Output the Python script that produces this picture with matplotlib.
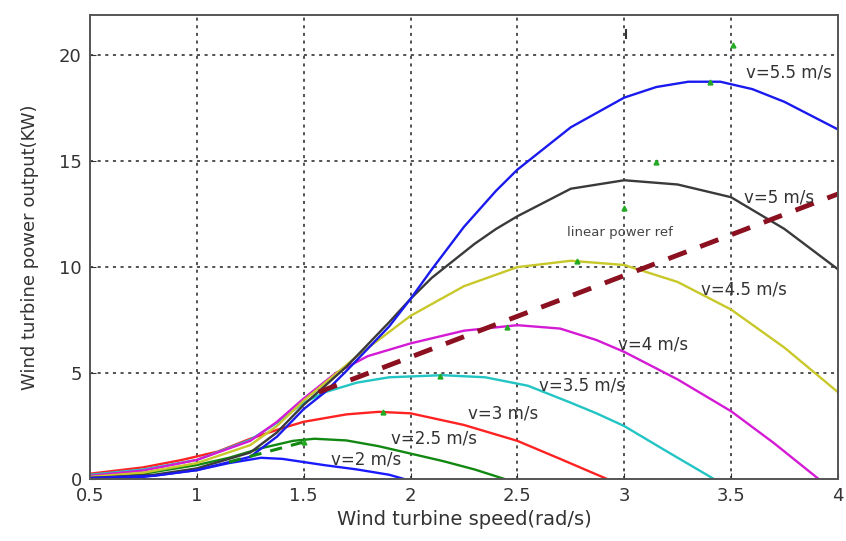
import numpy as np
import matplotlib
matplotlib.use("Agg")
import matplotlib.pyplot as plt

plt.rcParams['font.family'] = ['DejaVu Sans']

# power curves: (speed rad/s, power kW)
v2_x = [0.5, 0.75, 1.0, 1.15, 1.3, 1.4, 1.5, 1.6, 1.75, 1.9, 1.97]
v2_y = [0.03, 0.1, 0.42, 0.75, 1.0, 0.95, 0.8, 0.65, 0.45, 0.2, 0.0]

v25_x = [0.5, 0.75, 1.0, 1.15, 1.3, 1.45, 1.55, 1.7, 1.85, 2.0, 2.15, 2.3, 2.44]
v25_y = [0.08, 0.25, 0.66, 1.0, 1.45, 1.8, 1.9, 1.82, 1.55, 1.2, 0.85, 0.45, 0.0]

v3_x = [0.5, 0.75, 0.93, 1.1, 1.25, 1.4, 1.5, 1.7, 1.85, 2.0, 2.25, 2.5, 2.7, 2.92]
v3_y = [0.25, 0.55, 0.9, 1.3, 1.9, 2.4, 2.7, 3.05, 3.17, 3.1, 2.55, 1.8, 0.95, 0.0]

v35_x = [0.5, 0.75, 1.0, 1.25, 1.375, 1.5, 1.6, 1.75, 1.9, 2.15, 2.35, 2.55, 2.75, 2.87, 3.0, 3.2, 3.42]
v35_y = [0.2, 0.45, 0.9, 1.85, 2.65, 3.6, 4.1, 4.55, 4.8, 4.9, 4.8, 4.4, 3.6, 3.1, 2.5, 1.3, 0.0]

v4_x = [0.5, 0.75, 1.0, 1.25, 1.375, 1.5, 1.65, 1.8, 2.0, 2.25, 2.5, 2.7, 2.87, 3.0, 3.25, 3.5, 3.7, 3.91]
v4_y = [0.15, 0.4, 0.9, 1.8, 2.7, 3.8, 5.0, 5.8, 6.4, 7.0, 7.26, 7.1, 6.56, 6.0, 4.7, 3.2, 1.7, 0.0]

v45_x = [0.5, 0.75, 1.0, 1.25, 1.375, 1.5, 1.75, 2.0, 2.25, 2.5, 2.75, 3.0, 3.25, 3.5, 3.75, 4.0]
v45_y = [0.1, 0.3, 0.75, 1.6, 2.5, 3.7, 5.8, 7.7, 9.1, 10.0, 10.3, 10.1, 9.3, 8.0, 6.2, 4.1]

v5_x = [0.5, 0.8, 1.0, 1.25, 1.375, 1.5, 1.7, 1.9, 2.0, 2.1, 2.2, 2.3, 2.4, 2.5, 2.75, 3.0,
        3.25, 3.5, 3.75, 4.0]
v5_y = [0.05, 0.2, 0.5, 1.25, 2.2, 3.5, 5.3, 7.4, 8.5, 9.5, 10.3, 11.1, 11.8, 12.4, 13.7, 14.1,
        13.9, 13.3, 11.8, 9.9]

v55_x = [0.5, 0.8, 1.0, 1.25, 1.375, 1.5, 1.6, 1.7, 1.9, 2.0, 2.1, 2.25, 2.4, 2.5, 2.75, 3.0,
         3.15, 3.3, 3.45, 3.6, 3.75, 4.0]
v55_y = [0.05, 0.15, 0.42, 1.05, 2.0, 3.3, 4.1, 5.1, 7.2, 8.5, 9.9, 11.9, 13.6, 14.6, 16.6, 18.0,
         18.5, 18.75, 18.75, 18.4, 17.8, 16.5]

# linear power reference and the short green dashed track
ref_x = [1.57, 4.0]
ref_y = [4.1, 13.45]
track_x = [1.15, 1.52]
track_y = [0.8, 1.8]

# small green marks near the peaks, and the black tick at the top
mark_x = [1.5, 1.87, 2.14, 2.45, 2.78, 3.0, 3.15, 3.4, 3.51]
mark_y = [1.76, 3.16, 4.86, 7.18, 10.3, 12.8, 14.97, 18.74, 20.5]
tick_x = [3.01]
tick_y = [21.0]

labels = ['v=2 m/s', 'v=2.5 m/s', 'v=3 m/s', 'v=3.5 m/s', 'v=4 m/s',
          'v=4.5 m/s', 'v=5 m/s', 'v=5.5 m/s']
label_x = [1.63, 1.91, 2.27, 2.6, 2.97, 3.36, 3.56, 3.57]
label_y = [0.94, 1.93, 3.11, 4.43, 6.37, 8.96, 13.3, 19.2]

curves = [(v2_x, v2_y, '#1a1aff'), (v25_x, v25_y, '#118811'),
          (v3_x, v3_y, '#ff2222'), (v35_x, v35_y, '#22c4c4'),
          (v4_x, v4_y, '#d41ad4'), (v45_x, v45_y, '#c8c82a'),
          (v5_x, v5_y, '#3a3a3a'), (v55_x, v55_y, '#1a1aee')]

fig = plt.figure(figsize=(8.46, 5.41), dpi=100)
ax = fig.add_axes([0.1064, 0.1146, 0.884, 0.8577])

for xs, ys, c in curves:
    ax.plot(xs, ys, color=c, lw=1.7)

ax.plot(ref_x, ref_y, color='#8b1020', lw=3.5, dashes=(4, 3))
ax.plot(track_x, track_y, color='#118811', lw=2.2, dashes=(4, 3))
ax.plot(mark_x, mark_y, ls='none', marker='^', ms=3.5, color='#22aa22')
ax.plot(tick_x, tick_y, ls='none', marker='|', ms=7, mew=1.5, color='#333333')

for t, x, y in zip(labels, label_x, label_y):
    ax.text(x, y, t, fontsize=12, color='#333333', va='center', ha='left')
ax.text(2.73, 11.65, 'linear power ref', fontsize=9.5, color='#444444', va='center', ha='left')

ax.set_xlim(0.5, 4)
ax.set_ylim(0, 21.9)
ax.set_xticks([0.5, 1, 1.5, 2, 2.5, 3, 3.5, 4])
ax.set_xticklabels(['0.5', '1', '1.5', '2', '2.5', '3', '3.5', '4'])
ax.set_yticks([0, 5, 10, 15, 20])

ax.grid(True, color='#222222', linestyle=(0, (2, 3)), lw=1.1)
ax.tick_params(direction='in', length=4, labelsize=13, colors='#333333', pad=6)
for s in ax.spines.values():
    s.set_color('#555555')
    s.set_linewidth(1.4)

ax.set_xlabel('Wind turbine speed(rad/s)', fontsize=14, color='#333333', labelpad=3)
ax.set_ylabel('Wind turbine power output(KW)', fontsize=13, color='#333333', labelpad=14)

fig.savefig('out.png', dpi=100)
